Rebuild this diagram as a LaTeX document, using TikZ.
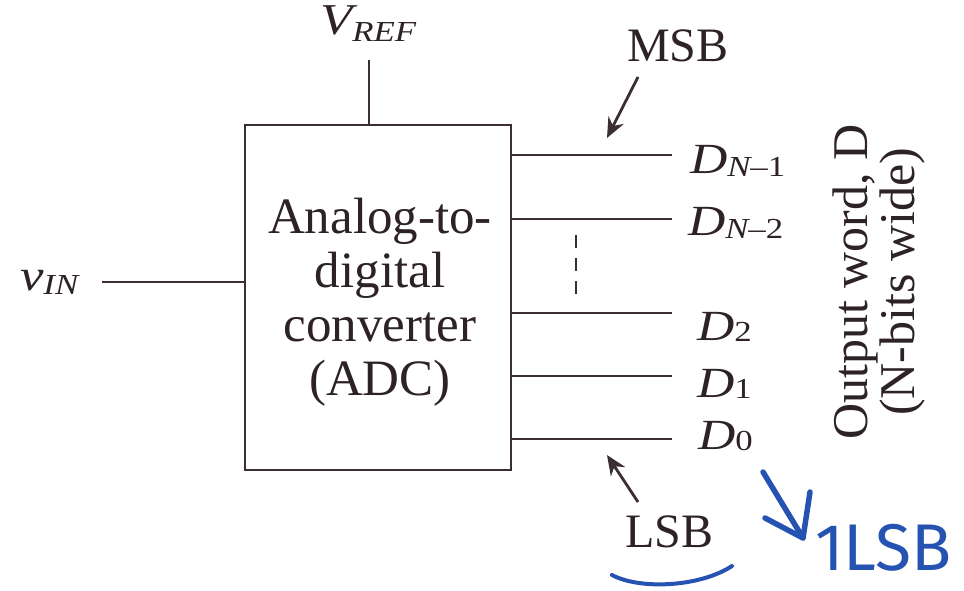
\documentclass[tikz,border=0pt]{standalone}
\usepackage{fontspec}
\setmainfont{Liberation Serif}
\newfontfamily\widefont[FakeStretch=1.2]{Liberation Serif}
\newfontfamily\handfont{Fira Sans}
\usetikzlibrary{arrows.meta}
\definecolor{ink}{RGB}{45,34,40}
\definecolor{wirecol}{RGB}{58,46,52}
\definecolor{pen}{RGB}{38,82,178}
\newcommand\lowsub[2][3pt]{\raisebox{-#1}{\fontsize{29}{29}\selectfont #2}}
\tikzset{
  wire/.style={draw=wirecol, line width=2.8pt},
  ptr/.style={wire, -{Stealth[length=20pt,width=17pt]}},
  lbl/.style={text=ink, inner sep=0pt, outer sep=0pt},
  maintext/.style={lbl, font=\fontsize{51}{54}\selectfont},
  symb/.style={lbl, font=\widefont\fontsize{43}{43}\selectfont\itshape},
  penline/.style={draw=pen, line width=5.5pt, line cap=round, line join=round},
}
\begin{document}
\begin{tikzpicture}[x=1pt,y=-1pt]
\useasboundingbox (0,0) rectangle (964,591);
\fill[white] (0,0) rectangle (964,591);

% ADC block
\node[wire, minimum width=266pt, minimum height=345pt, inner sep=0pt] (adc) at (378,297.5) {};
\node[maintext, align=center] (adclabel) at (380,302.5) {Analog-to-\\digital\\converter\\(ADC)};

% input
\node[symb, anchor=base west, font=\widefont\fontsize{44}{44}\selectfont\itshape] (vin) at (20,290) {v\lowsub[4pt]{IN}};
\coordinate (vinstart) at (102,282);
\draw[wire] (vinstart) -- (vinstart -| adc.west);

% reference
\node[symb, anchor=base west, font=\widefont\fontsize{44}{44}\selectfont\itshape] (vref) at (320,35) {V\lowsub[7pt]{REF}};
\coordinate (vrefend) at (369,60);
\draw[wire] (vrefend) -- (vrefend |- adc.north);

% outputs
\coordinate (o1) at (672,155);
\coordinate (o2) at (672,219);
\coordinate (o3) at (672,313);
\coordinate (o4) at (672,376);
\coordinate (o5) at (672,439);
\foreach \o in {o1,o2,o3,o4,o5}{
  \draw[wire] (\o -| adc.east) -- (\o);
}
\coordinate (dashtop) at (576,235);
\coordinate (dashbot) at (576,298);
\draw[wire, dash pattern=on 13pt off 10pt] (dashtop) -- (dashbot);

\node[symb, anchor=base west] (dn1) at (690,173) {D\lowsub{N\upshape–1}};
\node[symb, anchor=base west] (dn2) at (688,235) {D\lowsub{N\upshape–2}};
\node[symb, anchor=base west] (d2) at (697,340) {D\lowsub[1pt]{\upshape 2}};
\node[symb, anchor=base west] (d1) at (697,397) {D\lowsub[1pt]{\upshape 1}};
\node[symb, anchor=base west] (d0) at (698,449) {D\lowsub[1pt]{\upshape 0}};

% MSB / LSB
\node[lbl, anchor=base west, font=\fontsize{48}{48}\selectfont] (msb) at (627,62) {MSB};
\coordinate (msbtail) at (638,77);
\coordinate (msbtip) at (607,138);
\draw[ptr] (msbtail) -- (msbtip);

\node[lbl, anchor=base west, font=\fontsize{48}{48}\selectfont] (lsb) at (625,547) {LSB};
\coordinate (lsbtail) at (638,502);
\coordinate (lsbtip) at (607,455);
\draw[ptr] (lsbtail) -- (lsbtip);

% output word label
\node[lbl, rotate=90, align=center, font=\fontsize{50}{44}\selectfont] (outword) at (879,282) {Output word, D\\(N-bits wide)};

% handwritten annotations
\coordinate (ul1) at (612,575);
\coordinate (ul2) at (732,566);
\draw[draw=pen, line width=4pt, line cap=round] (ul1) .. controls (640,590) and (700,587) .. (ul2);
\coordinate (ba1) at (763,472);
\coordinate (ba2) at (803,538);
\coordinate (bh1) at (765,518);
\coordinate (bh2) at (810,492);
\draw[penline] (ba1) -- (ba2);
\draw[penline] (bh1) -- (ba2) -- (bh2);
\node[inner sep=0pt, anchor=base west, text=pen, font=\handfont\fontsize{66}{66}\selectfont] (note) at (815,570) {1LSB};
\end{tikzpicture}
\end{document}
